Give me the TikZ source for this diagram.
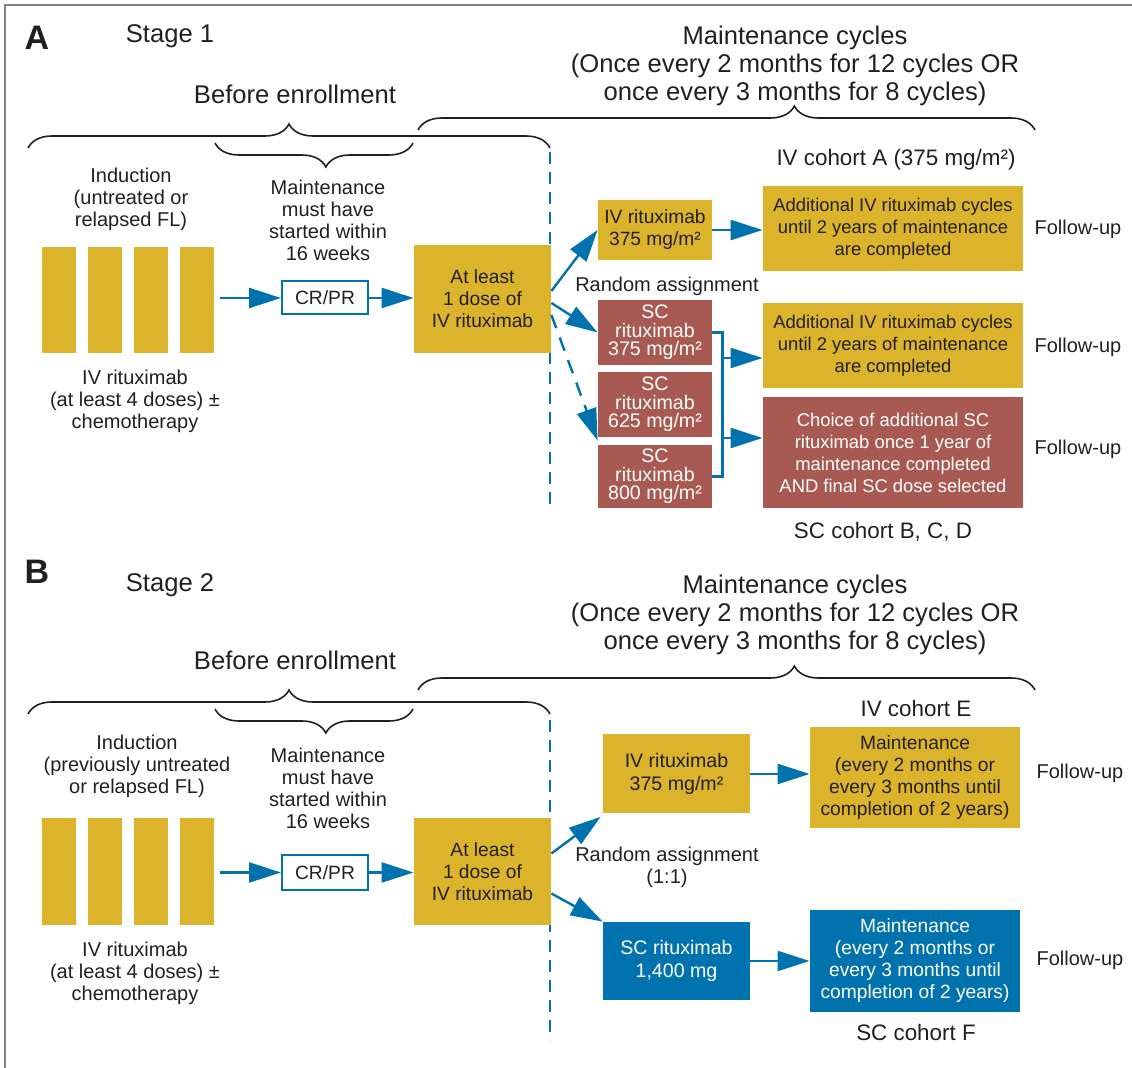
\documentclass[tikz,border=0pt]{standalone}
\usepackage{fontspec}
\setmainfont{Liberation Sans}
\usetikzlibrary{arrows.meta,decorations.pathreplacing}
\definecolor{gold}{RGB}{219,180,44}
\definecolor{brick}{RGB}{168,90,82}
\definecolor{rblue}{RGB}{0,114,174}
\definecolor{ink}{RGB}{35,31,32}

\begin{document}
\begin{tikzpicture}[
  x=0.5pt,y=-0.5pt,
  lbl/.style={align=center, inner sep=0pt, text=ink, font=\fontsize{10}{11}\selectfont},
  head/.style={align=center, inner sep=0pt, text=ink, font=\fontsize{12.8}{14}\selectfont},
  cohort/.style={align=center, inner sep=0pt, text=ink, font=\fontsize{11.2}{13}\selectfont},
  box/.style={align=center, inner sep=0pt, font=\fontsize{9.6}{11}\selectfont},
  widebox/.style={font=\fontsize{9.2}{11}\selectfont},
  goldbox/.style={box, fill=gold, text=ink},
  brickbox/.style={box, fill=brick, text=white},
  bluebox/.style={box, fill=rblue, text=white},
  scbox/.style={brickbox, minimum width=57pt, font=\fontsize{9.8}{9.3}\selectfont},
  crbox/.style={box, draw=rblue, line width=1pt, fill=white, text=ink, minimum width=43pt},
  flow/.style={draw=rblue, line width=1.2pt, -{Triangle[length=16pt,width=10pt]}},
  brace/.style={draw=ink, line width=0.8pt, decorate, decoration={brace, amplitude=12pt, #1}},
  brace/.default={aspect=0.5},
  divider/.style={draw=rblue, line width=1pt, dash pattern=on 6pt off 4pt}
]
\useasboundingbox (0,0) rectangle (1132,1068);
\draw[gray, line width=1pt] (5,1068) -- (5,5) -- (1132,5);

% panel A
\node[inner sep=0pt, text=ink, font=\fontsize{17}{20}\selectfont\bfseries] (labA) at (37,38) {A};
\node[head] (stageA) at (170,36) {Stage 1};
\node[head] (cycA) at (795,66) {Maintenance cycles\\(Once every 2 months for 12 cycles OR\\once every 3 months for 8 cycles)};
\node[head] (befA) at (295,94) {Before enrollment};
\draw[brace] (28,148) -- (550,148);
\draw[brace={aspect=0.44}] (413,143) -- (215,143);
\draw[brace={aspect=0.61}] (418,130) -- (1035,130);
\draw[divider] (550,152) -- (550,505);

\node[lbl] (indA) at (131,199) {Induction\\(untreated or\\relapsed FL)};
\foreach \i/\x in {1/59,2/105,3/151,4/197}
  \node[goldbox, minimum width=17pt, minimum height=53pt] (barA\i) at (\x,300) {};
\node[lbl] (rixA) at (135,401) {IV rituximab\\(at least 4 doses) ±\\chemotherapy};
\node[lbl] (mustA) at (328,220) {Maintenance\\must have\\started within\\16 weeks};
\node[crbox, minimum height=16.5pt] (crA) at (325,298) {CR/PR};
\node[goldbox, minimum width=68.5pt, minimum height=54pt] (doseA) at (482.5,299) {At least\\1 dose of\\IV rituximab};

\node[cohort] (cohA) at (896,160) {IV cohort A (375 mg/m²)};
\node[goldbox, minimum width=57pt, minimum height=30pt] (ivA) at (655,230) {IV rituximab\\375 mg/m²};
\node[goldbox, widebox, minimum width=130pt, minimum height=42.5pt] (addA1) at (893,228.5) {Additional IV rituximab cycles\\until 2 years of maintenance\\are completed};
\node[lbl] (randA) at (667,286) {Random assignment};
\node[scbox, minimum height=32.5pt] (sc375) at (655,332.5) {SC\\rituximab\\375 mg/m²};
\node[scbox, minimum height=32.5pt] (sc625) at (655,404.5) {SC\\rituximab\\625 mg/m²};
\node[scbox, minimum height=31.5pt] (sc800) at (655,476.5) {SC\\rituximab\\800 mg/m²};
\node[goldbox, widebox, minimum width=130pt, minimum height=42.5pt] (addA2) at (893,345.5) {Additional IV rituximab cycles\\until 2 years of maintenance\\are completed};
\node[brickbox, widebox, minimum width=130pt, minimum height=55.5pt] (choice) at (893,452.5) {Choice of additional SC\\rituximab once 1 year of\\maintenance completed\\AND final SC dose selected};
\node[cohort] (cohBCD) at (883,532) {SC cohort B, C, D};
\node[lbl] (fuA1) at (1078,229) {Follow-up};
\node[lbl] (fuA2) at (1078,347) {Follow-up};
\node[lbl] (fuA3) at (1078,449) {Follow-up};

\draw[flow] (barA4.east |- crA.west) ++(6,0) -- (crA.west);
\draw[flow] (crA.east) -- (crA.east -| doseA.west);
\draw[flow] ([yshift=4pt]doseA.east) -- (ivA.west);
\draw[flow] ([yshift=-2pt]doseA.east) -- (sc375.west);
\draw[flow, dash pattern=on 7pt off 5pt] ([yshift=-8pt]doseA.east) -- ([yshift=2pt]sc800.north west);
\draw[flow] (ivA.east) -- (ivA.east -| addA1.west);
\draw[rblue, line width=1.2pt] (sc375.east) -- ++(10,0) |- (sc800.east);
\coordinate (forkA) at (722,358);
\coordinate (forkB) at (722,438);
\draw[flow] (forkA) -- (forkA -| addA2.west);
\draw[flow] (forkB) -- (forkB -| choice.west);

% panel B
\node[inner sep=0pt, text=ink, font=\fontsize{17}{20}\selectfont\bfseries] (labB) at (37,572) {B};
\node[head] (stageB) at (170,585) {Stage 2};
\node[head] (cycB) at (795,615) {Maintenance cycles\\(Once every 2 months for 12 cycles OR\\once every 3 months for 8 cycles)};
\node[head] (befB) at (295,660) {Before enrollment};
\draw[brace] (28,714) -- (550,714);
\draw[brace={aspect=0.44}] (413,709) -- (215,709);
\draw[brace={aspect=0.61}] (418,690) -- (1035,690);
\draw[divider] (550,720) -- (550,1040);

\node[lbl] (indB) at (137,766) {Induction\\(previously untreated\\or relapsed FL)};
\foreach \i/\x in {1/59,2/105,3/151,4/197}
  \node[goldbox, minimum width=17pt, minimum height=53.5pt] (barB\i) at (\x,871.5) {};
\node[lbl] (rixB) at (135,973) {IV rituximab\\(at least 4 doses) ±\\chemotherapy};
\node[lbl] (mustB) at (328,788) {Maintenance\\must have\\started within\\16 weeks};
\node[crbox, minimum height=17.5pt] (crB) at (325,872.5) {CR/PR};
\node[goldbox, minimum width=68.5pt, minimum height=53.5pt] (doseB) at (482.5,871.5) {At least\\1 dose of\\IV rituximab};

\node[cohort] (cohE) at (916,709) {IV cohort E};
\node[goldbox, minimum width=73.5pt, minimum height=39.5pt, font=\fontsize{9.8}{11.5}\selectfont] (ivE) at (676.5,774) {IV rituximab\\375 mg/m²};
\node[goldbox, minimum width=105pt, minimum height=50.5pt] (mainE) at (915,778) {Maintenance\\(every 2 months or\\every 3 months until\\completion of 2 years)};
\node[lbl] (randB) at (667,867) {Random assignment\\(1:1)};
\node[bluebox, minimum width=73.5pt, minimum height=39pt, font=\fontsize{9.8}{11.5}\selectfont] (scF) at (676.5,961) {SC rituximab\\1,400 mg};
\node[bluebox, minimum width=105pt, minimum height=51pt] (mainF) at (915,961) {Maintenance\\(every 2 months or\\every 3 months until\\completion of 2 years)};
\node[cohort] (cohF) at (916,1032) {SC cohort F};
\node[lbl] (fuB1) at (1080,773) {Follow-up};
\node[lbl] (fuB2) at (1080,960) {Follow-up};

\draw[flow] (barB4.east |- crB.west) ++(6,0) -- (crB.west);
\draw[flow] (crB.east) -- (crB.east -| doseB.west);
\draw[flow] ([yshift=9pt]doseB.east) -- ([xshift=-1pt,yshift=-1.5pt]ivE.south west);
\draw[flow] ([yshift=-11pt]doseB.east) -- (scF.north west);
\draw[flow] (ivE.east) -- (ivE.east -| mainE.west);
\draw[flow] (scF.east) -- (scF.east -| mainF.west);
\end{tikzpicture}
\end{document}
